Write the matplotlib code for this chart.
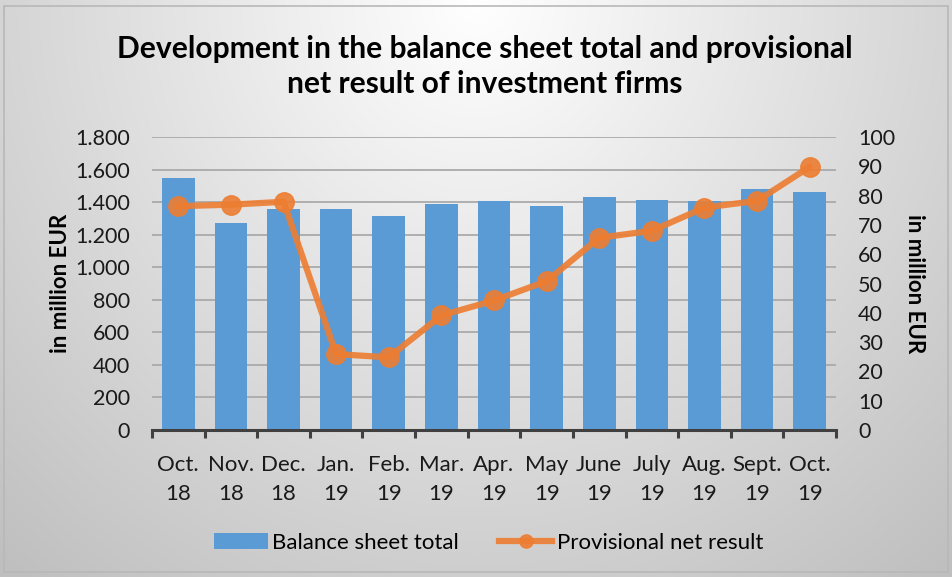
import numpy as np
import matplotlib
matplotlib.use("Agg")
import matplotlib.pyplot as plt
from matplotlib.ticker import FuncFormatter, FixedLocator, MultipleLocator
from matplotlib.lines import Line2D
from matplotlib.patches import Patch, Rectangle

months = ["Oct.", "Nov.", "Dec.", "Jan.", "Feb.", "Mar.", "Apr.", "May", "June", "July", "Aug.", "Sept.", "Oct."]
years = ["18", "18", "18", "19", "19", "19", "19", "19", "19", "19", "19", "19", "19"]
balance_sheet_total = [1548, 1270, 1355, 1360, 1316, 1388, 1407, 1374, 1433, 1411, 1404, 1478, 1464]
net_result = [76.4, 76.9, 77.9, 25.9, 24.8, 39.1, 44.2, 50.8, 65.6, 68.0, 75.9, 78.2, 89.8]

FONT = ["Lato", "DejaVu Sans"]
plt.rcParams['font.family'] = FONT

W, H = 953, 577
fig = plt.figure(figsize=(W / 100, H / 100), dpi=100)

# background gradient
bg = fig.add_axes([0, 0, 1, 1], zorder=-10)
yy, xx = np.mgrid[0:H, 0:W]
d = np.sqrt(((xx - W * 0.5) / (W * 0.75)) ** 2 + ((yy - 0) / (H * 1.3)) ** 2)
val = np.clip(1.0 - 0.25 * d, 0.75, 1.0)
img = np.dstack([val, val, val])
bg.imshow(img, extent=[0, W, H, 0], aspect='auto', interpolation='bilinear')
bg.add_patch(Rectangle((4, 6), W - 9, H - 11, fill=False, edgecolor='#b8b8b8', lw=1.2))
bg.set_xlim(0, W)
bg.set_ylim(H, 0)
bg.axis('off')

ax = fig.add_axes([152 / W, 1 - 430 / H, (836 - 152) / W, (430 - 137) / H])
ax.patch.set_alpha(0)
x = np.arange(len(months))
ax.bar(x, balance_sheet_total, width=0.62, color='#5B9BD5', zorder=2, label='Balance sheet total')
ax.set_xlim(-0.5, len(months) - 0.5)
ax.set_ylim(0, 1800)
ax.yaxis.set_major_locator(MultipleLocator(200))
ax.yaxis.set_major_formatter(FuncFormatter(lambda v, p: f"{int(v):,}".replace(",", ".")))
ax.grid(axis='y', color='#aaaaaa', lw=1.3, zorder=0)
ax.set_axisbelow(True)
for s in ['top', 'right', 'left']:
    ax.spines[s].set_visible(False)
ax.spines['bottom'].set_color('#404040')
ax.spines['bottom'].set_linewidth(2.2)
ax.tick_params(axis='y', length=0, pad=16, labelsize=15.5, colors='#1a1a1a')
ax.set_xticks(x)
ax.set_xticklabels([f"{m}\n{y}" for m, y in zip(months, years)], fontsize=16, linespacing=1.575, color='#1a1a1a')
ax.tick_params(axis='x', which='major', length=0, pad=18)
ax.xaxis.set_minor_locator(FixedLocator(np.arange(-0.5, len(months), 1.0)))
ax.tick_params(axis='x', which='minor', length=6, width=2.2, color='#404040', direction='out')
ax.set_ylabel("in million EUR", fontsize=16, fontweight='bold', labelpad=3)

ax2 = ax.twinx()
ax2.set_ylim(0, 100)
ax2.yaxis.set_major_locator(MultipleLocator(10))
ax2.plot(x, net_result, color='#ED7D31', lw=4.5, marker='o', markersize=14, alpha=0.9,
         solid_capstyle='round', zorder=3, label='Provisional net result')
for s in ['top', 'right', 'left', 'bottom']:
    ax2.spines[s].set_visible(False)
ax2.tick_params(axis='y', length=0, pad=16, labelsize=15.5, colors='#1a1a1a')
ax2.set_ylabel("in million EUR", fontsize=16, fontweight='bold', rotation=270, labelpad=21)

fig.text(484.5 / W, 1 - 66.5 / H, "Development in the balance sheet total and provisional\nnet result of investment firms",
         fontsize=21.6, fontweight='bold', ha='center', va='center', linespacing=1.3)

handles = [Patch(facecolor='#5B9BD5', edgecolor='none'),
           Line2D([0], [0], color='#ED7D31', lw=4.5, marker='o', markersize=9.5, alpha=0.9)]
fig.legend(handles, ['Balance sheet total', 'Provisional net result'], loc='center',
           bbox_to_anchor=(489 / W, 1 - 543 / H), ncol=2, frameon=False, fontsize=16,
           handlelength=2.39, handleheight=0.7, handletextpad=0.22, columnspacing=1.8)

fig.savefig("out.png", dpi=100)
